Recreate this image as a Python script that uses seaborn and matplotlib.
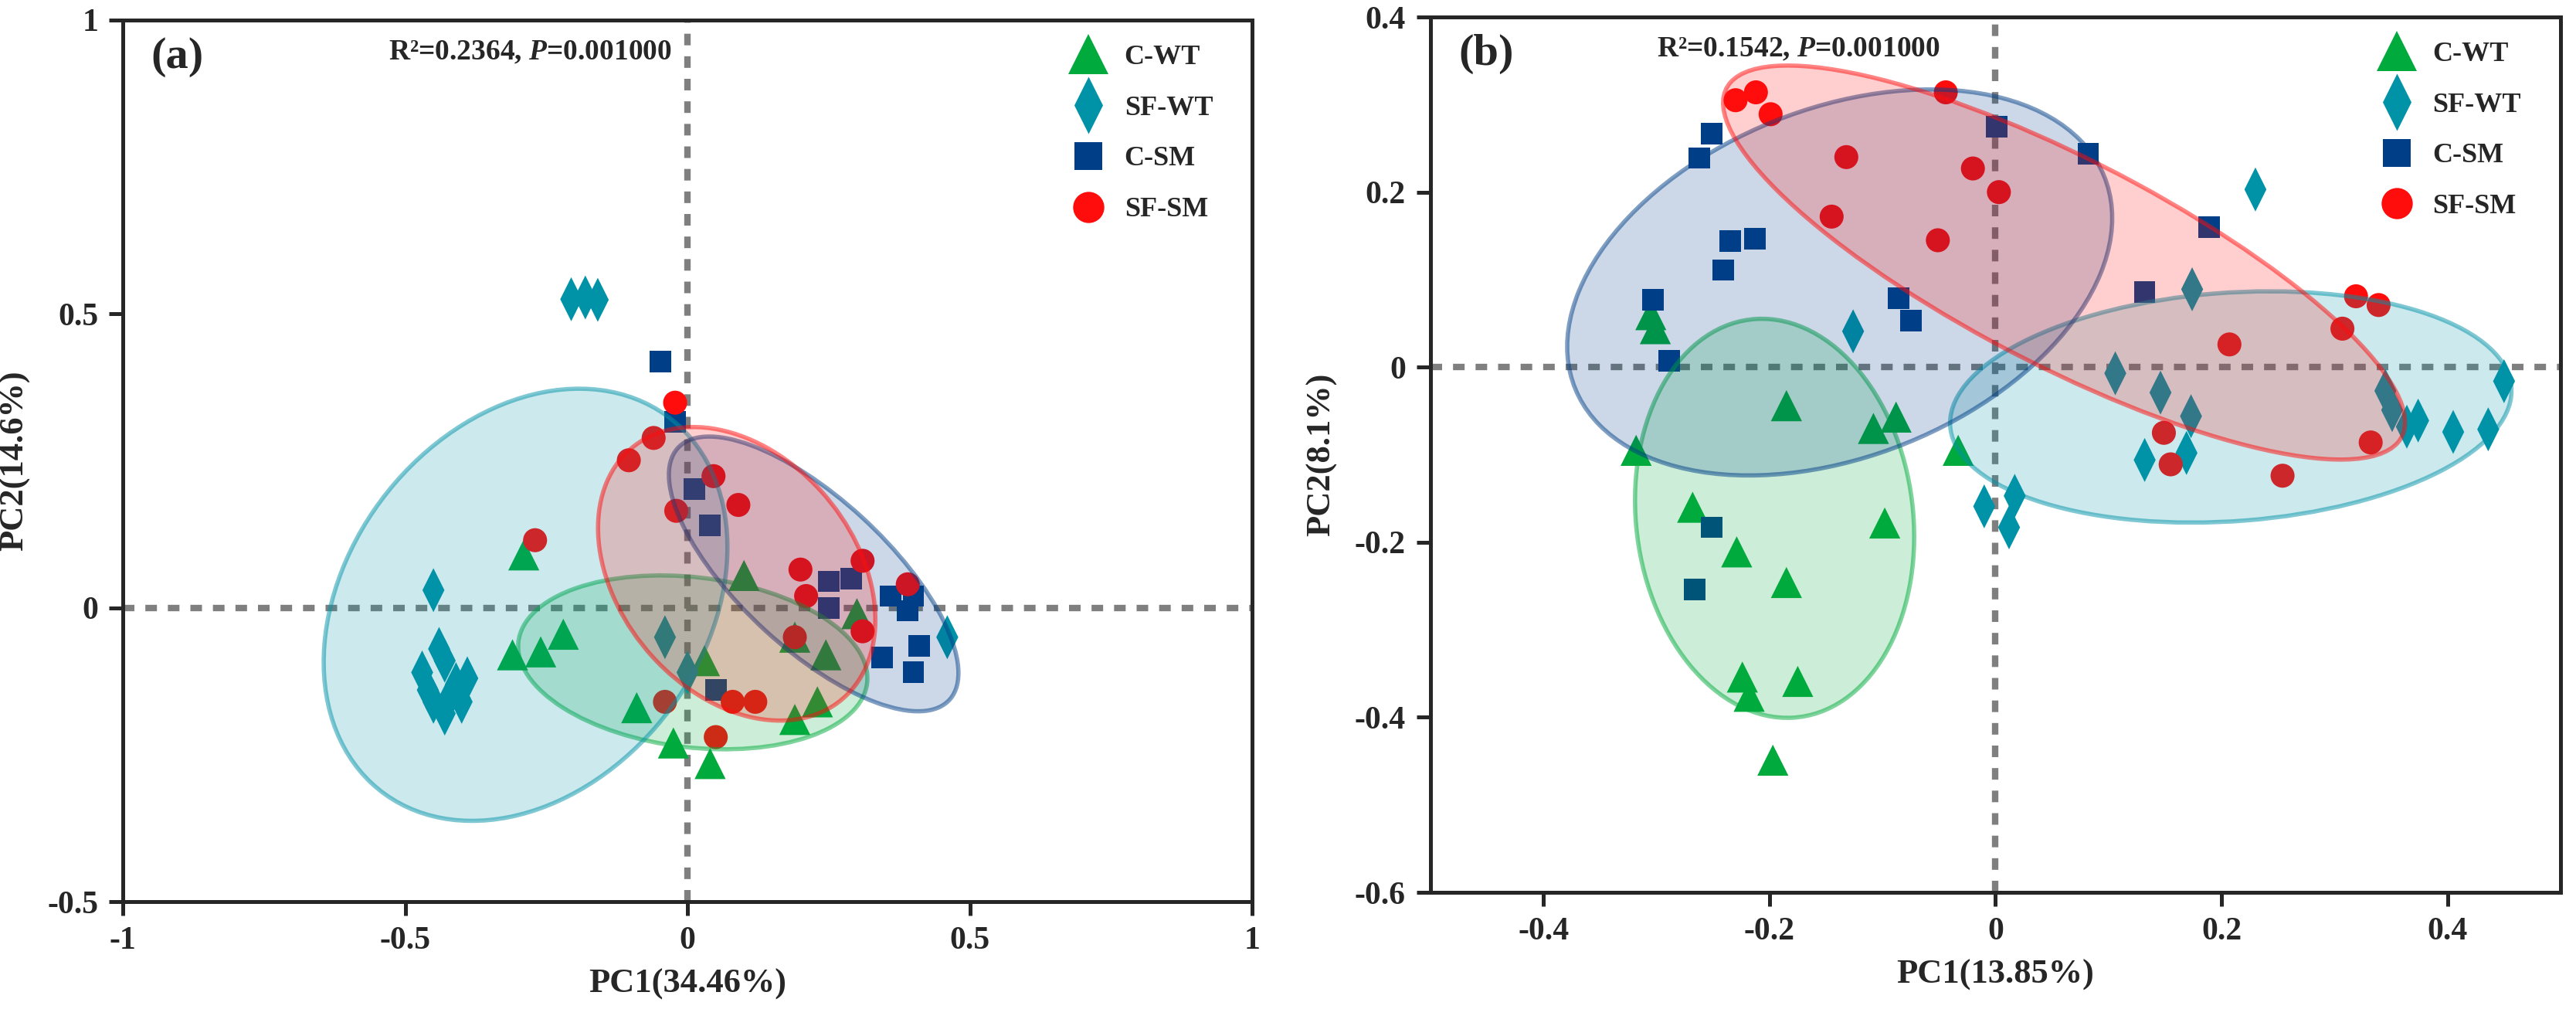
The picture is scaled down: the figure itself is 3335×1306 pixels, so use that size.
import matplotlib.pyplot as plt
import numpy as np
import pandas as pd
import seaborn as sns
from matplotlib.colors import to_rgba
from matplotlib.patches import Ellipse
from matplotlib.path import Path

groups = ["C-WT", "SF-WT", "C-SM", "SF-SM"]

# panel (a) scores
a_cwt_x = [-0.29, -0.31, -0.26, -0.22, -0.09, -0.025, 0.04, 0.03, 0.10, 0.19, 0.23, 0.19, 0.245, 0.30]
a_cwt_y = [0.09, -0.08, -0.075, -0.045, -0.17, -0.23, -0.265, -0.09, 0.055, -0.19, -0.16, -0.05, -0.08, -0.01]
a_sfwt_x = [-0.206, -0.181, -0.159, -0.45, -0.47, -0.46, -0.45, -0.43, -0.42, -0.43, -0.41, -0.40, -0.39, -0.44, -0.04, 0.0, 0.46]
a_sfwt_y = [0.525, 0.528, 0.524, 0.03, -0.11, -0.14, -0.16, -0.18, -0.15, -0.09, -0.13, -0.16, -0.12, -0.07, -0.05, -0.11, -0.05]
a_csm_x = [-0.048, -0.022, 0.012, 0.04, 0.05, 0.29, 0.25, 0.36, 0.40, 0.39, 0.41, 0.40, 0.345, 0.25]
a_csm_y = [0.419, 0.316, 0.202, 0.14, -0.14, 0.05, 0.0, 0.02, 0.02, -0.005, -0.065, -0.11, -0.085, 0.045]
a_sfsm_x = [-0.022, -0.06, -0.104, 0.046, 0.09, -0.27, -0.02, 0.2, 0.21, 0.31, 0.39, 0.31, 0.19, -0.04, 0.05, 0.08, 0.12]
a_sfsm_y = [0.349, 0.289, 0.251, 0.224, 0.175, 0.115, 0.165, 0.065, 0.02, 0.08, 0.04, -0.04, -0.05, -0.16, -0.22, -0.16, -0.16]

# panel (b) scores
b_cwt_x = [-0.305, -0.301, -0.318, -0.185, -0.108, -0.088, -0.268, -0.229, -0.185, -0.098, -0.224, -0.218, -0.175, -0.197, -0.033]
b_cwt_y = [0.060, 0.044, -0.095, -0.044, -0.070, -0.057, -0.160, -0.211, -0.246, -0.178, -0.354, -0.376, -0.359, -0.449, -0.095]
b_sfwt_x = [-0.126, 0.230, 0.174, 0.106, 0.146, 0.173, 0.345, 0.351, 0.364, 0.374, 0.405, 0.436, 0.450, 0.132, 0.169, -0.010, 0.017, 0.012]
b_sfwt_y = [0.041, 0.203, 0.089, -0.007, -0.029, -0.056, -0.027, -0.049, -0.068, -0.061, -0.074, -0.071, -0.016, -0.106, -0.098, -0.159, -0.147, -0.183]
b_csm_x = [-0.251, -0.262, -0.235, -0.213, -0.241, -0.303, -0.289, -0.086, -0.075, -0.251, -0.266, 0.001, 0.082, 0.189, 0.132]
b_csm_y = [0.267, 0.239, 0.144, 0.147, 0.111, 0.077, 0.007, 0.079, 0.053, -0.183, -0.254, 0.275, 0.244, 0.160, 0.086]
b_sfsm_x = [-0.230, -0.212, -0.199, -0.132, -0.145, -0.044, -0.020, 0.003, -0.051, 0.319, 0.339, 0.307, 0.207, 0.149, 0.155, 0.332, 0.254]
b_sfsm_y = [0.305, 0.314, 0.289, 0.240, 0.172, 0.314, 0.227, 0.200, 0.145, 0.081, 0.071, 0.044, 0.026, -0.075, -0.111, -0.086, -0.124]

palette = {"C-WT": "#00AA3C", "SF-WT": "#0093A8", "C-SM": "#003F87", "SF-SM": "#FF0D0D"}
thin_diamond = Path([(0, 1), (0.5, 0), (0, -1), (-0.5, 0), (0, 1)], closed=True)
markers = {"C-WT": "^", "SF-WT": thin_diamond, "C-SM": "s", "SF-SM": "o"}
sizes = {"C-WT": 210, "SF-WT": 420, "C-SM": 100, "SF-SM": 125}

sns.set_style("ticks")
plt.rcParams["font.family"] = ["Liberation Serif", "DejaVu Serif"]
plt.rcParams["font.weight"] = "bold"
plt.rcParams["axes.unicode_minus"] = False
plt.rcParams["mathtext.fontset"] = "custom"
plt.rcParams["mathtext.it"] = "Liberation Serif:italic"
plt.rcParams["mathtext.rm"] = "Liberation Serif:bold"


def make_frame(xs, ys):
    parts = [pd.DataFrame({"PC1": x, "PC2": y, "group": g}) for g, x, y in zip(groups, xs, ys)]
    return pd.concat(parts, ignore_index=True)


def add_ellipse(ax, x, y, color, k=1.45):
    cov = np.cov(x, y)
    vals, vecs = np.linalg.eigh(cov)
    angle = np.degrees(np.arctan2(vecs[1, 1], vecs[0, 1]))
    w = 2 * k * np.sqrt(vals[1])
    h = 2 * k * np.sqrt(vals[0])
    ax.add_patch(Ellipse((np.mean(x), np.mean(y)), w, h, angle=angle,
                         facecolor=to_rgba(color, 0.2), edgecolor=to_rgba(color, 0.5),
                         lw=2, zorder=3))


def draw_panel(ax, df, tag, stat, xlim, ylim, xticks, yticks, xlabel, ylabel):
    ax.axhline(0, color="#7f7f7f", lw=3, ls=(0, (1.8, 1.7)), zorder=1)
    ax.axvline(0, color="#7f7f7f", lw=3, ls=(0, (1.8, 1.7)), zorder=1)
    sns.scatterplot(data=df, x="PC1", y="PC2", hue="group", style="group", size="group",
                    hue_order=groups, style_order=groups, size_order=groups,
                    palette=palette, markers=markers, sizes=sizes, linewidth=0,
                    ax=ax, zorder=2)
    for g in groups:
        sub = df[df["group"] == g]
        add_ellipse(ax, sub["PC1"].values, sub["PC2"].values, palette[g])

    ax.set_xlim(xlim)
    ax.set_ylim(ylim)
    ax.set_xticks(xticks)
    ax.set_yticks(yticks)
    ax.set_xticklabels([f"{t:g}" for t in xticks])
    ax.set_yticklabels([f"{t:g}" for t in yticks])
    ax.tick_params(direction="out", length=6.5, width=1.8, labelsize=15, pad=5)
    for s in ax.spines.values():
        s.set_linewidth(1.8)
        s.set_visible(True)
    ax.set_xlabel(xlabel, fontsize=16, fontweight="bold", labelpad=6)
    ax.set_ylabel(ylabel, fontsize=16, fontweight="bold", labelpad=8)

    ax.text(0.025, 0.958, tag, transform=ax.transAxes, fontsize=21, fontweight="bold",
            va="center", ha="left")
    ax.text(stat[0], 0.963, stat[1], transform=ax.transAxes, fontsize=13.5,
            fontweight="bold", va="center", ha="left")

    sns.move_legend(ax, "upper right", bbox_to_anchor=(0.975, 0.985), frameon=False,
                    title=None, markerscale=1.3, labelspacing=0.9, handletextpad=0.3,
                    borderaxespad=0, prop={"weight": "bold", "size": 13})


fig = plt.figure(figsize=(16.675, 6.53), dpi=200)
ax_a = fig.add_axes([0.0477, 0.1064, 0.4384, 0.8737])
ax_b = fig.add_axes([0.5553, 0.1156, 0.4387, 0.8675])

df_a = make_frame([a_cwt_x, a_sfwt_x, a_csm_x, a_sfsm_x], [a_cwt_y, a_sfwt_y, a_csm_y, a_sfsm_y])
df_b = make_frame([b_cwt_x, b_sfwt_x, b_csm_x, b_sfsm_x], [b_cwt_y, b_sfwt_y, b_csm_y, b_sfsm_y])

draw_panel(ax_a, df_a, "(a)", (0.235, r"R²=0.2364, $\mathit{P}$=0.001000"),
           (-1, 1), (-0.5, 1), [-1, -0.5, 0, 0.5, 1], [-0.5, 0, 0.5, 1],
           "PC1(34.46%)", "PC2(14.6%)")
draw_panel(ax_b, df_b, "(b)", (0.20, r"R²=0.1542, $\mathit{P}$=0.001000"),
           (-0.5, 0.5), (-0.6, 0.4), [-0.4, -0.2, 0, 0.2, 0.4],
           [-0.6, -0.4, -0.2, 0, 0.2, 0.4], "PC1(13.85%)", "PC2(8.1%)")

fig.savefig("out.png", dpi=200)
